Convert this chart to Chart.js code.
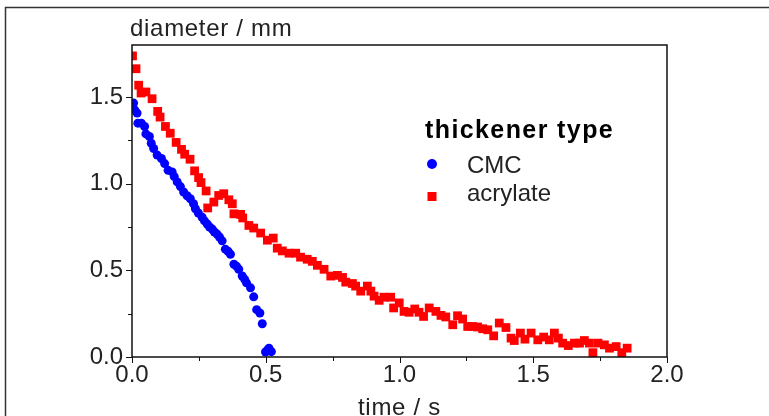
<!DOCTYPE html>
<html>
<head>
<meta charset="utf-8">
<script src="https://cdn.jsdelivr.net/npm/chart.js@4.4.1/dist/chart.umd.min.js"></script>
<style>
  html, body { margin: 0; padding: 0; background: #fff; }
  #wrap { position: relative; width: 769px; height: 416px; overflow: hidden; }
</style>
</head>
<body>
<div id="wrap"><canvas id="chart" width="769" height="416"></canvas></div>
<script>
/* ================= DATA ================= */
const cmcTime = [
  0.006, 0.010, 0.019, 0.022, 0.035, 0.047, 0.052, 0.065, 0.072, 0.081,
  0.094, 0.110, 0.122, 0.135, 0.150, 0.158, 0.169, 0.181, 0.193, 0.206,
  0.218, 0.230, 0.237, 0.248, 0.262, 0.271, 0.281, 0.290, 0.300, 0.308,
  0.318, 0.327, 0.337, 0.349, 0.359, 0.368, 0.381, 0.391, 0.399, 0.412,
  0.421, 0.428, 0.443, 0.455, 0.466, 0.478, 0.487, 0.499, 0.507, 0.512, 0.521
];
const cmcDiameter = [
  1.465, 1.426, 1.407, 1.349, 1.349, 1.330, 1.287, 1.272, 1.233, 1.203,
  1.165, 1.145, 1.116, 1.077, 1.068, 1.041, 1.010, 0.983, 0.952, 0.930,
  0.913, 0.884, 0.855, 0.831, 0.806, 0.785, 0.767, 0.750, 0.738, 0.721,
  0.709, 0.692, 0.670, 0.622, 0.610, 0.593, 0.535, 0.523, 0.506, 0.467,
  0.448, 0.428, 0.399, 0.347, 0.273, 0.254, 0.192, 0.029, 0.041, 0.051, 0.031
];

const acrylateTime = [
  0.002, 0.015, 0.025, 0.034, 0.052, 0.075, 0.096, 0.105, 0.125, 0.143,
  0.165, 0.185, 0.197, 0.217, 0.234, 0.249, 0.258, 0.277, 0.283, 0.306,
  0.324, 0.343, 0.362, 0.375, 0.381, 0.406, 0.414, 0.437, 0.455, 0.481,
  0.506, 0.528, 0.543, 0.562, 0.587, 0.612, 0.630, 0.655, 0.674, 0.693,
  0.718, 0.743, 0.768, 0.787, 0.799, 0.824, 0.836, 0.855, 0.880, 0.893,
  0.905, 0.924, 0.942, 0.967, 0.978, 0.999, 1.017, 1.036, 1.057, 1.073,
  1.090, 1.111, 1.136, 1.155, 1.173, 1.199, 1.217, 1.236, 1.255, 1.273,
  1.292, 1.311, 1.330, 1.352, 1.373, 1.398, 1.417, 1.429, 1.452, 1.469,
  1.492, 1.517, 1.539, 1.560, 1.579, 1.594, 1.610, 1.631, 1.654, 1.673,
  1.691, 1.710, 1.723, 1.742, 1.766, 1.785, 1.810, 1.831, 1.851
];
const acrylateDiameter = [
  1.737, 1.663, 1.568, 1.523, 1.529, 1.490, 1.417, 1.384, 1.330, 1.291,
  1.238, 1.198, 1.170, 1.141, 1.074, 1.035, 1.006, 0.958, 0.860, 0.894,
  0.932, 0.942, 0.907, 0.884, 0.826, 0.823, 0.802, 0.759, 0.744, 0.715,
  0.674, 0.686, 0.628, 0.612, 0.599, 0.599, 0.576, 0.564, 0.552, 0.529,
  0.506, 0.467, 0.471, 0.459, 0.432, 0.424, 0.409, 0.380, 0.409, 0.380,
  0.351, 0.327, 0.345, 0.345, 0.283, 0.312, 0.263, 0.258, 0.277, 0.258,
  0.234, 0.283, 0.263, 0.240, 0.231, 0.186, 0.238, 0.219, 0.176, 0.176,
  0.173, 0.163, 0.157, 0.122, 0.196, 0.170, 0.109, 0.095, 0.138, 0.103,
  0.138, 0.099, 0.115, 0.099, 0.138, 0.109, 0.080, 0.066, 0.080, 0.080,
  0.095, 0.080, 0.025, 0.080, 0.070, 0.051, 0.060, 0.025, 0.051
];

const seriesNames = ["CMC", "acrylate"];
const legendTitle = "thickener type";
const xTitle = "time / s";
const yTitle = "diameter / mm";
const xMajorTicks = [0, 0.5, 1.0, 1.5, 2.0];
const yMajorTicks = [0, 0.5, 1.0, 1.5];

const toPoints = (xs, ys) => xs.map((x, i) => ({ x: x, y: ys[i] }));

/* ================= DECORATIONS ================= */
const FONT = "'Liberation Sans', Arial, sans-serif";
const isMajor = (v, step) => Math.abs(v / step - Math.round(v / step)) < 1e-6;

const frame = {
  id: "frame",
  beforeDraw(chart) {
    const ctx = chart.ctx;
    ctx.save();
    ctx.fillStyle = "#fff";
    ctx.fillRect(0, 0, chart.width, chart.height);
    // outer picture border
    ctx.strokeStyle = "#333";
    ctx.lineWidth = 1.5;
    ctx.beginPath();
    ctx.moveTo(5.5, chart.height);
    ctx.lineTo(5.5, 7.5);
    ctx.lineTo(chart.width, 7.5);
    ctx.stroke();
    ctx.restore();
  },
  afterDraw(chart) {
    const ctx = chart.ctx;
    const a = chart.chartArea;
    const xs = chart.scales.x;
    const ys = chart.scales.y;
    ctx.save();

    // plot box
    ctx.strokeStyle = "#111";
    ctx.lineWidth = 1.5;
    ctx.strokeRect(a.left, a.top, a.right - a.left, a.bottom - a.top);

    // tick marks, outward
    ctx.lineWidth = 1;
    ctx.beginPath();
    xs.ticks.forEach(t => {
      if (!isMajor(t.value, 0.25)) return;
      const px = Math.round(xs.getPixelForValue(t.value)) + 0.5;
      const len = isMajor(t.value, 0.5) ? 6 : 4;
      ctx.moveTo(px, a.bottom);
      ctx.lineTo(px, a.bottom + len);
    });
    ys.ticks.forEach(t => {
      if (!isMajor(t.value, 0.25)) return;
      const py = Math.round(ys.getPixelForValue(t.value)) + 0.5;
      const len = isMajor(t.value, 0.5) ? 6 : 4;
      ctx.moveTo(a.left, py);
      ctx.lineTo(a.left - len, py);
    });
    ctx.stroke();

    // axis titles
    ctx.fillStyle = "#222";
    ctx.font = "24px " + FONT;
    ctx.letterSpacing = "0.7px";
    ctx.textBaseline = "alphabetic";
    ctx.textAlign = "left";
    ctx.fillText(yTitle, 130, 36);
    ctx.fillText(xTitle, 358, 415);

    // legend
    ctx.fillStyle = "#000";
    ctx.font = "bold 25px " + FONT;
    ctx.letterSpacing = "1.4px";
    ctx.fillText(legendTitle, 425, 138);
    ctx.letterSpacing = "0px";
    ctx.font = "24px " + FONT;
    ctx.fillStyle = "#222";
    const rows = [172.5, 200.5];
    chart.data.datasets.forEach((ds, i) => {
      ctx.fillText(ds.label, 467, rows[i]);
      ctx.fillStyle = ds.backgroundColor;
      if (ds.pointStyle === "rect") {
        ctx.fillRect(427.5, rows[i] - 8.5, 9, 9);
      } else {
        ctx.beginPath();
        ctx.arc(432, rows[i] - 8.5, 5, 0, Math.PI * 2);
        ctx.fill();
      }
      ctx.fillStyle = "#222";
    });

    ctx.restore();
  }
};

/* ================= CHART ================= */
const tickFont = { family: FONT, size: 24 };

new Chart(document.getElementById("chart"), {
  type: "scatter",
  data: {
    datasets: [
      {
        label: seriesNames[0],
        data: toPoints(cmcTime, cmcDiameter),
        backgroundColor: "#0000ff",
        borderWidth: 0,
        pointStyle: "circle",
        pointRadius: 4.5
      },
      {
        label: seriesNames[1],
        data: toPoints(acrylateTime, acrylateDiameter),
        backgroundColor: "#ff0000",
        borderWidth: 0,
        pointStyle: "rect",
        pointRadius: 6.2
      }
    ]
  },
  options: {
    responsive: false,
    animation: false,
    devicePixelRatio: 1,
    layout: { padding: { top: 45, right: 102, left: 0, bottom: 0 } },
    plugins: {
      legend: { display: false },
      tooltip: { enabled: false }
    },
    scales: {
      x: {
        type: "linear",
        min: 0,
        max: 2,
        grid: { display: false, drawTicks: false },
        border: { display: false },
        afterFit: s => { s.height = 59; },
        ticks: {
          stepSize: 0.25,
          autoSkip: false,
          maxRotation: 0,
          padding: 4,
          color: "#222",
          font: tickFont,
          callback: v => xMajorTicks.some(m => Math.abs(m - v) < 1e-6) ? v.toFixed(1) : ""
        }
      },
      y: {
        type: "linear",
        min: 0,
        max: 1.8,
        grid: { display: false, drawTicks: false },
        border: { display: false },
        afterFit: s => { s.width = 132; },
        ticks: {
          stepSize: 0.25,
          autoSkip: false,
          padding: 9,
          color: "#222",
          font: tickFont,
          callback: v => yMajorTicks.some(m => Math.abs(m - v) < 1e-6) ? v.toFixed(1) : ""
        }
      }
    }
  },
  plugins: [frame]
});
</script>
</body>
</html>
